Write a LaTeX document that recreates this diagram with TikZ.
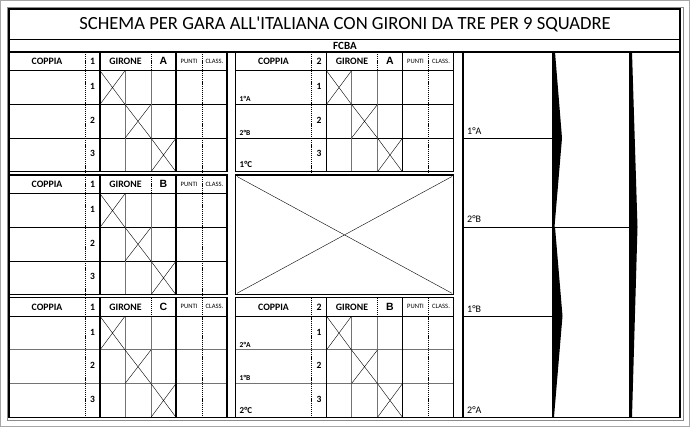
\documentclass[tikz,border=0pt]{standalone}
\usepackage{fontspec}
\setmainfont{Carlito}[Ligatures=TeXOff]
\newfontfamily\arialf{Liberation Sans}
\newcommand\gtab[6]{%
  % #1 prefix, #2 x0, #3 y top, #4 number, #5 letter, #6 row line colour
  \begin{scope}[shift={(#2,#3)}]
    \draw[rowl,#6] (0,52.4) -- (218,52.4) (0,86.1) -- (218,86.1);
    \draw[thinl] (116,18.7) -- (116,119.8) (142,18.7) -- (142,119.8);
    \draw[dsh] (142,0) -- (142,18.7);
    \draw[dsh] (76,0) -- (76,119.8) (193,0) -- (193,119.8);
    \draw[thk] (91,0) -- (91,119.8) (167,0) -- (167,119.8);
    \draw[xl] (91,18.7) -- (116,52.4) (116,18.7) -- (91,52.4)
              (116,52.4) -- (142,86.1) (142,52.4) -- (116,86.1)
              (142,86.1) -- (167,119.8) (167,86.1) -- (142,119.8);
    \draw[thk] (0,18.7) -- (218,18.7);
    \draw[thk] (0,0) rectangle (218,119.8);
    \node[hd] (#1-cp) at (38,9.35) {COPPIA};
    \node[hd] (#1-n) at (83.5,9.35) {#4};
    \node[hd] (#1-g) at (116.5,9.35) {GIRONE};
    \node[hl] (#1-l) at (154.5,9.35) {#5};
    \node[hs] (#1-p) at (180,9.35) {PUNTI};
    \node[hs] (#1-c) at (205.5,9.35) {CLASS.};
    \node[rn] (#1-r1) at (83.5,34.5) {1};
    \node[rn] (#1-r2) at (83.5,68.2) {2};
    \node[rn] (#1-r3) at (83.5,101.9) {3};
  \end{scope}}
\begin{document}
\begin{tikzpicture}[x=1pt,y=-1pt,
  thk/.style={line width=1.3pt},
  rowl/.style={line width=0.9pt},
  thinl/.style={line width=0.5pt,black!55},
  dsh/.style={line width=0.6pt,dash pattern=on 1.2pt off 0.9pt},
  xl/.style={line width=0.4pt},
  hd/.style={font=\fontsize{9.8}{10}\selectfont\bfseries,inner sep=0pt},
  hl/.style={font=\arialf\fontsize{10.5}{11}\selectfont\bfseries,inner sep=0pt},
  hs/.style={font=\fontsize{6.6}{7}\selectfont,inner sep=0pt},
  rn/.style={font=\fontsize{9.5}{10}\selectfont\bfseries,inner sep=0pt},
  lb/.style={font=\fontsize{7.5}{8}\selectfont\bfseries,inner sep=0pt,anchor=base west},
  lbb/.style={font=\fontsize{9}{9}\selectfont\bfseries,inner sep=0pt,anchor=base west},
  br/.style={font=\fontsize{10}{10}\selectfont,inner sep=0pt,anchor=base west},
  tri/.style={fill=black}]
\useasboundingbox (0,0) rectangle (690,427);
% frames
\draw[black!35,line width=0.8pt] (0.5,0.5) rectangle (689.5,426.5);
\draw[black!45,line width=0.6pt] (7,7) rectangle (683,420);
% title and FCBA bands
\draw[thk] (9,39.5) -- (680,39.5) (9,52) -- (680,52);
\node[font=\fontsize{18.6}{20}\selectfont,inner sep=0pt] (title) at (345,24.5)
  {SCHEMA PER GARA ALL'ITALIANA CON GIRONI DA TRE PER 9 SQUADRE};
\node[font=\fontsize{11}{11}\selectfont\bfseries,inner sep=0pt] (fcba) at (345,46) {FCBA};
% group tables
\gtab{ta}{9}{52}{1}{A}{black}
\gtab{tb}{9}{175}{1}{B}{black}
\gtab{tc}{9}{297.5}{1}{C}{black!55}
\gtab{td}{235.5}{52}{2}{A}{black}
\gtab{te}{235.5}{297.5}{2}{B}{black!55}
% labels in second-round tables
\node[lb] (d1) at (239.5,101.5) {1°A};
\node[lb] (d2) at (239.5,135.2) {2°B};
\node[lbb] (d3) at (239.5,168) {1°C};
\node[lb] (e1) at (239.5,347) {2°A};
\node[lb] (e2) at (239.5,380.7) {1°B};
\node[lbb] (e3) at (239.5,413.5) {2°C};
% crossed middle box
\draw[thk] (235.5,175) rectangle (453.5,294.8);
\draw[xl] (237,176.5) -- (452,293.3) (237,293.3) -- (452,176.5);
% bracket area
\draw[thk] (463,52) -- (463,417.5);
\draw[rowl] (463,138) -- (553,138) (463,316) -- (553,316);
\draw[rowl] (463,227) -- (630,227);
\draw[thk] (553,52) -- (553,417.5) (630,52) -- (630,417.5);
\fill[tri] (552.5,52) -- (555,52) -- (562,138) -- (554.5,227) -- (552.5,227) -- cycle;
\fill[tri] (552.5,227) -- (555,227) -- (562.5,316) -- (554,417) -- (552.5,417) -- cycle;
\fill[tri] (629.5,52) -- (632,52) -- (637.5,227) -- (632,417) -- (629.5,417) -- cycle;
\node[br] (b1) at (467,134.5) {1°A};
\node[br] (b2) at (467,222.7) {2°B};
\node[br] (b3) at (467,312.3) {1°B};
\node[br] (b4) at (467,413.3) {2°A};
% main frame
\draw[thk] (9,9) rectangle (680,417.5);
\end{tikzpicture}
\end{document}
